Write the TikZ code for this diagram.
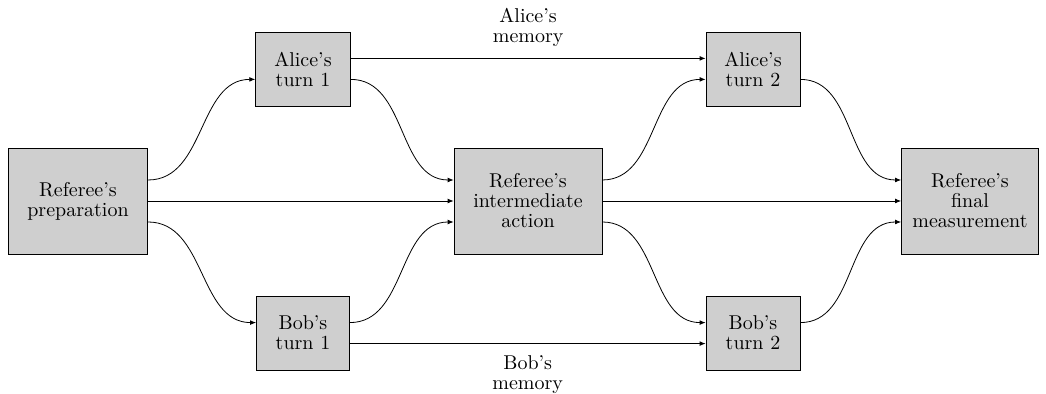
\documentclass[tikz,border=0pt]{standalone}
\usetikzlibrary{arrows.meta}
\begin{document}
\begin{tikzpicture}[
  box/.style={draw, fill=black!19, align=center, inner sep=0pt, font=\fontsize{10}{10}\selectfont},
  conn/.style={-{Latex[length=3pt,width=2.4pt]}},
  lbl/.style={align=center, font=\fontsize{10}{10}\selectfont},
]
\useasboundingbox (0,0) rectangle (523pt,197pt);
\node[box, minimum width=69.7pt, minimum height=53pt] (prep) at (39pt,96.5pt) {Referee's\\preparation};
\node[box, minimum width=47.3pt, minimum height=37pt] (a1) at (151.5pt,162.5pt) {Alice's\\turn 1};
\node[box, minimum width=46.5pt, minimum height=37pt] (b1) at (151.5pt,30.5pt) {Bob's\\turn 1};
\node[box, minimum width=73.9pt, minimum height=53pt] (inter) at (264pt,96.5pt) {Referee's\\intermediate\\action};
\node[box, minimum width=47pt, minimum height=37pt] (a2) at (376.5pt,162.5pt) {Alice's\\turn 2};
\node[box, minimum width=47pt, minimum height=37pt] (b2) at (376.5pt,30.5pt) {Bob's\\turn 2};
\node[box, minimum width=68.5pt, minimum height=53pt] (final) at (485pt,96.5pt) {Referee's\\final\\measurement};

\draw[conn] ([yshift=10.5pt]prep.east) to[out=0,in=180] ([yshift=-5.2pt]a1.west);
\draw[conn] (prep.east) -- (inter.west);
\draw[conn] ([yshift=-10.5pt]prep.east) to[out=0,in=180] ([yshift=5.2pt]b1.west);
\draw[conn] ([yshift=-5.2pt]a1.east) to[out=0,in=180] ([yshift=10.5pt]inter.west);
\draw[conn] ([yshift=5.2pt]b1.east) to[out=0,in=180] ([yshift=-10.5pt]inter.west);
\draw[conn] ([yshift=5.3pt]a1.east) -- node[lbl, midway, above=2.5pt] {Alice's\\memory} ([yshift=5.3pt]a2.west);
\draw[conn] ([yshift=-5.3pt]b1.east) -- node[lbl, midway, below=2.5pt] {Bob's\\memory} ([yshift=-5.3pt]b2.west);
\draw[conn] ([yshift=10.5pt]inter.east) to[out=0,in=180] ([yshift=-5.2pt]a2.west);
\draw[conn] (inter.east) -- (final.west);
\draw[conn] ([yshift=-10.5pt]inter.east) to[out=0,in=180] ([yshift=5.2pt]b2.west);
\draw[conn] ([yshift=-5.2pt]a2.east) to[out=0,in=180] ([yshift=10.5pt]final.west);
\draw[conn] ([yshift=5.2pt]b2.east) to[out=0,in=180] ([yshift=-10.5pt]final.west);
\end{tikzpicture}
\end{document}
